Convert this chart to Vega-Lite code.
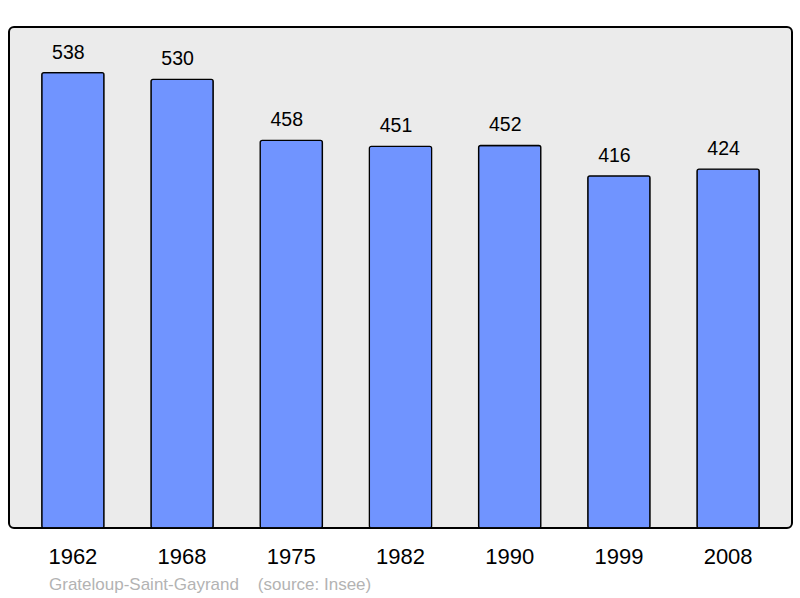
{
  "$schema": "https://vega.github.io/schema/vega-lite/v6.json",
  "width": 783,
  "height": 501,
  "autosize": "none",
  "padding": {"left": 9, "top": 27, "right": 8, "bottom": 70},
  "background": "white",
  "data": {
    "values": [
      {"year": "1962", "pop": 538},
      {"year": "1968", "pop": 530},
      {"year": "1975", "pop": 458},
      {"year": "1982", "pop": 451},
      {"year": "1990", "pop": 452},
      {"year": "1999", "pop": 416},
      {"year": "2008", "pop": 424}
    ]
  },
  "title": {
    "text": "Grateloup-Saint-Gayrand\u00a0\u00a0\u00a0\u00a0(source: Insee)",
    "orient": "bottom",
    "anchor": "start",
    "frame": "group",
    "dx": 40,
    "offset": 10,
    "font": "Liberation Sans",
    "fontSize": 17,
    "fontWeight": "normal",
    "color": "#b3b3b3"
  },
  "encoding": {
    "x": {
      "field": "year",
      "type": "nominal",
      "title": null,
      "scale": {"paddingInner": 0.43, "paddingOuter": 0.3},
      "axis": {
        "labelAngle": 0,
        "ticks": false,
        "domain": false,
        "labelFont": "Liberation Sans",
        "labelFontSize": 22,
        "labelColor": "black",
        "labelPadding": 18
      }
    },
    "y": {
      "field": "pop",
      "type": "quantitative",
      "scale": {"domain": [0, 592], "nice": false},
      "axis": null
    }
  },
  "layer": [
    {
      "mark": {
        "type": "bar",
        "fill": "#7094ff",
        "stroke": "black",
        "strokeWidth": 1.3,
        "cornerRadius": 2
      }
    },
    {
      "mark": {
        "type": "text",
        "baseline": "alphabetic",
        "dx": -4.5,
        "dy": -14,
        "font": "Liberation Sans",
        "fontSize": 19.5,
        "color": "black"
      },
      "encoding": {"text": {"field": "pop", "type": "quantitative"}}
    }
  ],
  "config": {
    "view": {
      "fill": "#ebebeb",
      "stroke": "black",
      "strokeWidth": 2,
      "cornerRadius": 5
    }
  }
}
